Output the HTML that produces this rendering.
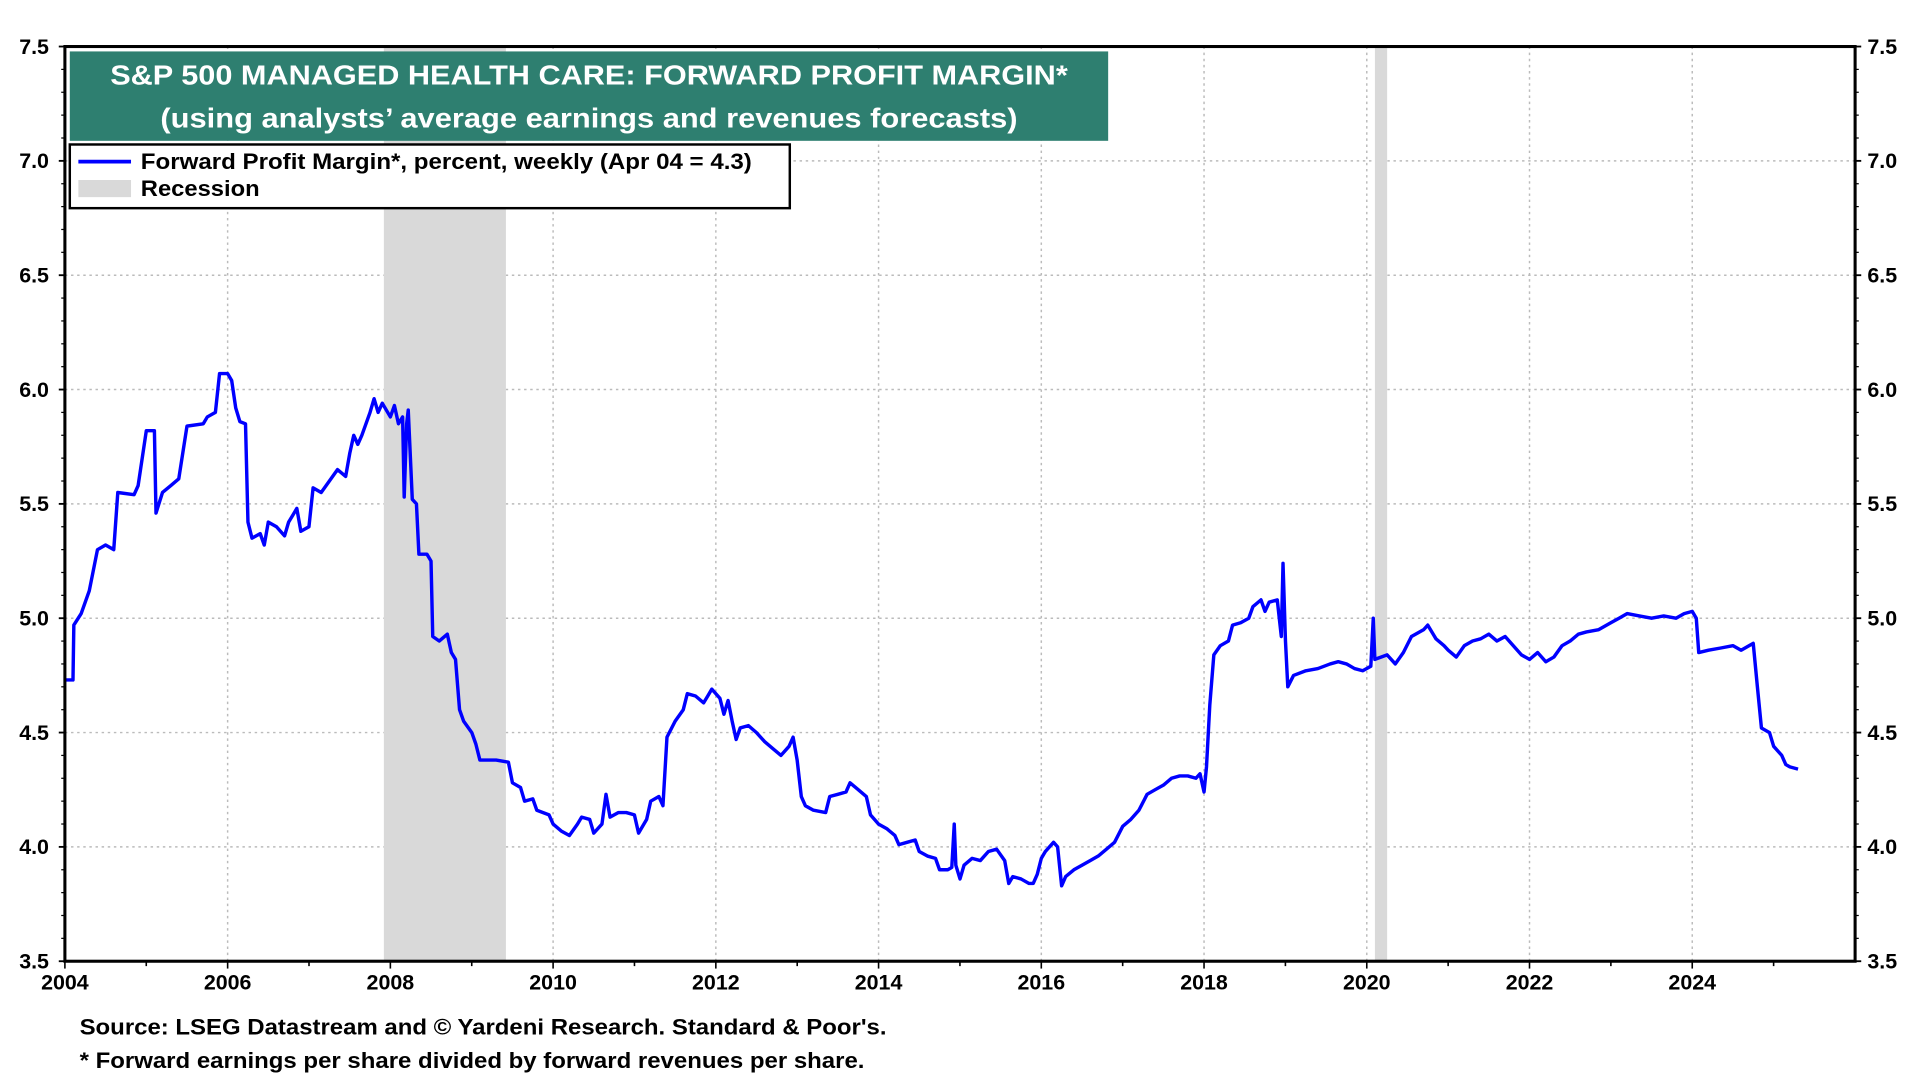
<!DOCTYPE html>
<html><head><meta charset="utf-8"><style>
html,body{margin:0;padding:0;background:#fff;}
svg{display:block;font-family:"Liberation Sans",Arial,sans-serif;}
</style></head><body>
<svg id="chart" width="1920" height="1080" viewBox="0 0 1568 882" preserveAspectRatio="none" xmlns="http://www.w3.org/2000/svg">
<g id="grid"></g>
<g id="recessions"></g>
<path id="line" fill="none" stroke="#0000ff" stroke-width="2.8" stroke-linejoin="round"/>
<rect x="53" y="38" width="1462" height="747" fill="none" stroke="#000" stroke-width="2.5"/>
<g id="axes" font-weight="bold" font-size="17.5"></g>
<g>
<rect x="57" y="42" width="848" height="73" fill="#2e7f70"/>
<text x="90" y="69" textLength="782" lengthAdjust="spacingAndGlyphs" fill="#fff" font-weight="bold" font-size="23">S&amp;P 500 MANAGED HEALTH CARE: FORWARD PROFIT MARGIN*</text>
<text x="131" y="104" textLength="700" lengthAdjust="spacingAndGlyphs" fill="#fff" font-weight="bold" font-size="23">(using analysts’ average earnings and revenues forecasts)</text>
</g>
<g>
<rect x="57" y="118" width="588" height="52" fill="#fff" stroke="#000" stroke-width="2"/>
<line x1="64" y1="132" x2="107" y2="132" stroke="#0000ff" stroke-width="3"/>
<text x="115" y="138" textLength="499" lengthAdjust="spacingAndGlyphs" font-weight="bold" font-size="18">Forward Profit Margin*, percent, weekly (Apr 04 = 4.3)</text>
<rect x="64" y="147" width="43" height="14" fill="#d9d9d9"/>
<text x="115" y="160" textLength="97" lengthAdjust="spacingAndGlyphs" font-weight="bold" font-size="18">Recession</text>
</g>
<text x="65" y="845" textLength="659" lengthAdjust="spacingAndGlyphs" font-weight="bold" font-size="18">Source: LSEG Datastream and © Yardeni Research. Standard &amp; Poor's.</text>
<text x="65" y="872" textLength="641" lengthAdjust="spacingAndGlyphs" font-weight="bold" font-size="18">* Forward earnings per share divided by forward revenues per share.</text>
</svg>
<script>
const yTicks=[3.5,4.0,4.5,5.0,5.5,6.0,6.5,7.0,7.5];
const yTickLabels=["3.5","4.0","4.5","5.0","5.5","6.0","6.5","7.0","7.5"];
const xTicks=[2004,2006,2008,2010,2012,2014,2016,2018,2020,2022,2024];
const xTickLabels=["2004","2006","2008","2010","2012","2014","2016","2018","2020","2022","2024"];
const recStart=[2007.92,2020.1];
const recEnd=[2009.42,2020.25];
const dates=[2004.0,2004.1,2004.11,2004.2,2004.3,2004.4,2004.5,2004.6,2004.65,2004.85,2004.9,2005.0,2005.1,2005.12,2005.2,2005.3,2005.4,2005.5,2005.7,2005.75,2005.85,2005.9,2006.0,2006.05,2006.1,2006.15,2006.22,2006.25,2006.3,2006.4,2006.45,2006.5,2006.6,2006.7,2006.75,2006.8,2006.85,2006.9,2007.0,2007.05,2007.15,2007.25,2007.35,2007.45,2007.5,2007.55,2007.6,2007.65,2007.75,2007.8,2007.85,2007.9,2008.0,2008.05,2008.1,2008.15,2008.17,2008.2,2008.22,2008.27,2008.32,2008.35,2008.45,2008.5,2008.52,2008.6,2008.7,2008.75,2008.8,2008.85,2008.9,2009.0,2009.05,2009.1,2009.3,2009.45,2009.5,2009.6,2009.65,2009.75,2009.8,2009.95,2010.0,2010.1,2010.2,2010.3,2010.35,2010.45,2010.5,2010.6,2010.65,2010.7,2010.8,2010.9,2011.0,2011.05,2011.15,2011.2,2011.3,2011.35,2011.4,2011.5,2011.6,2011.65,2011.75,2011.85,2011.9,2011.95,2012.05,2012.1,2012.15,2012.2,2012.25,2012.3,2012.4,2012.5,2012.55,2012.6,2012.7,2012.8,2012.9,2012.95,2013.0,2013.05,2013.1,2013.2,2013.35,2013.4,2013.5,2013.6,2013.65,2013.75,2013.85,2013.9,2014.0,2014.1,2014.2,2014.25,2014.35,2014.45,2014.5,2014.6,2014.7,2014.75,2014.85,2014.9,2014.93,2014.95,2015.0,2015.05,2015.15,2015.25,2015.35,2015.45,2015.55,2015.6,2015.65,2015.75,2015.85,2015.9,2015.95,2016.0,2016.05,2016.15,2016.2,2016.25,2016.3,2016.4,2016.5,2016.6,2016.7,2016.8,2016.9,2017.0,2017.1,2017.2,2017.3,2017.4,2017.5,2017.6,2017.7,2017.8,2017.9,2017.95,2018.0,2018.03,2018.07,2018.12,2018.2,2018.3,2018.35,2018.45,2018.55,2018.6,2018.7,2018.75,2018.8,2018.9,2018.95,2018.97,2019.0,2019.03,2019.1,2019.25,2019.4,2019.55,2019.65,2019.75,2019.85,2019.95,2020.05,2020.08,2020.1,2020.25,2020.35,2020.45,2020.55,2020.7,2020.75,2020.85,2020.95,2021.0,2021.1,2021.2,2021.3,2021.4,2021.5,2021.6,2021.7,2021.8,2021.9,2022.0,2022.1,2022.2,2022.3,2022.4,2022.5,2022.6,2022.7,2022.85,2023.0,2023.1,2023.2,2023.35,2023.5,2023.65,2023.8,2023.9,2024.0,2024.05,2024.08,2024.2,2024.35,2024.5,2024.6,2024.7,2024.75,2024.8,2024.85,2024.95,2025.0,2025.1,2025.15,2025.2,2025.3];
const values=[4.73,4.73,4.97,5.02,5.12,5.30,5.32,5.30,5.55,5.54,5.58,5.82,5.82,5.46,5.55,5.58,5.61,5.84,5.85,5.88,5.90,6.07,6.07,6.04,5.92,5.86,5.85,5.42,5.35,5.37,5.32,5.42,5.40,5.36,5.42,5.45,5.48,5.38,5.40,5.57,5.55,5.60,5.65,5.62,5.72,5.80,5.76,5.80,5.90,5.96,5.90,5.94,5.88,5.93,5.85,5.88,5.53,5.85,5.91,5.52,5.50,5.28,5.28,5.25,4.92,4.90,4.93,4.85,4.82,4.60,4.55,4.50,4.45,4.38,4.38,4.37,4.28,4.26,4.20,4.21,4.16,4.14,4.10,4.07,4.05,4.10,4.13,4.12,4.06,4.10,4.23,4.13,4.15,4.15,4.14,4.06,4.12,4.20,4.22,4.18,4.48,4.55,4.60,4.67,4.66,4.63,4.66,4.69,4.65,4.58,4.64,4.55,4.47,4.52,4.53,4.50,4.48,4.46,4.43,4.40,4.44,4.48,4.38,4.22,4.18,4.16,4.15,4.22,4.23,4.24,4.28,4.25,4.22,4.14,4.10,4.08,4.05,4.01,4.02,4.03,3.98,3.96,3.95,3.90,3.90,3.91,4.10,3.92,3.86,3.92,3.95,3.94,3.98,3.99,3.94,3.84,3.87,3.86,3.84,3.84,3.88,3.95,3.98,4.02,4.00,3.83,3.87,3.90,3.92,3.94,3.96,3.99,4.02,4.09,4.12,4.16,4.23,4.25,4.27,4.30,4.31,4.31,4.30,4.32,4.24,4.35,4.62,4.84,4.88,4.90,4.97,4.98,5.00,5.05,5.08,5.03,5.07,5.08,4.92,5.24,4.90,4.70,4.75,4.77,4.78,4.80,4.81,4.80,4.78,4.77,4.79,5.00,4.82,4.84,4.80,4.85,4.92,4.95,4.97,4.91,4.88,4.86,4.83,4.88,4.90,4.91,4.93,4.90,4.92,4.88,4.84,4.82,4.85,4.81,4.83,4.88,4.90,4.93,4.94,4.95,4.98,5.00,5.02,5.01,5.00,5.01,5.00,5.02,5.03,5.00,4.85,4.86,4.87,4.88,4.86,4.88,4.89,4.70,4.52,4.50,4.44,4.40,4.36,4.35,4.34];
const L=53,R=1515,T=38,B=785;
const xs=d=>L+(d-2004)*(1382-53)/20;
const ys=v=>B-(v-3.5)*(B-T)/4;
const NS="http://www.w3.org/2000/svg";
function mk(tag,attrs,parent){const e=document.createElementNS(NS,tag);for(const k in attrs)e.setAttribute(k,attrs[k]);parent.appendChild(e);return e;}
const grid=document.getElementById('grid'),axes=document.getElementById('axes'),rec=document.getElementById('recessions');
yTicks.forEach((v,i)=>{
  const y=ys(v);
  if(i>0&&i<yTicks.length-1){const g=mk('line',{x1:L,x2:R,y1:y,y2:y,stroke:'#bbb','stroke-width':1.2,'stroke-dasharray':'2,3'},grid);
  
  }
  const tl=mk('line',{x1:L-5,x2:L,y1:y,y2:y,stroke:'#000','stroke-width':1.5},axes);
  
  
  const tr=mk('line',{x1:R,x2:R+5,y1:y,y2:y,stroke:'#000','stroke-width':1.5},axes);
  
  
  const a=mk('text',{x:L-13,y:y+6,'text-anchor':'end'},axes);a.textContent=yTickLabels[i];
  
  
  const b=mk('text',{x:R+10,y:y+6,'text-anchor':'start'},axes);b.textContent=yTickLabels[i];
  
  
});
for(let i=0;i<12;i++)for(let j=0;j<5;j++){const v=3.5+i*0.5+j*0.1;if(j==0||v>7.5)continue;const y=ys(v);
  const m=mk('line',{x1:L-3,x2:L,y1:y,y2:y,stroke:'#000','stroke-width':1},axes);
  
  
  const m2=mk('line',{x1:R,x2:R+3,y1:y,y2:y,stroke:'#000','stroke-width':1},axes);
  
  }
xTicks.forEach((d,i)=>{
  const x=xs(d);
  if(i>0){const g=mk('line',{x1:x,x2:x,y1:T,y2:B,stroke:'#bbb','stroke-width':1.2,'stroke-dasharray':'2,3'},grid);
  
  }
  const t=mk('text',{x:x,y:B+23,'text-anchor':'middle'},axes);t.textContent=xTickLabels[i];
  
  
});
for(let yr=2004;yr<=2025;yr++){const x=xs(yr);
  const m=mk('line',{x1:x,x2:x,y1:B,y2:B+(yr%2==0?6:4),stroke:'#000','stroke-width':1.3},axes);
  
  }
recStart.forEach((s,i)=>{
  const r=mk('rect',{x:xs(s),y:T,width:xs(recEnd[i])-xs(s),height:B-T,fill:'#d9d9d9'},rec);
  
  
});
document.getElementById('line').setAttribute('d',dates.map((d,i)=>(i?'L':'M')+xs(d).toFixed(1)+','+ys(values[i]).toFixed(1)).join(''));
</script>
</body></html>
